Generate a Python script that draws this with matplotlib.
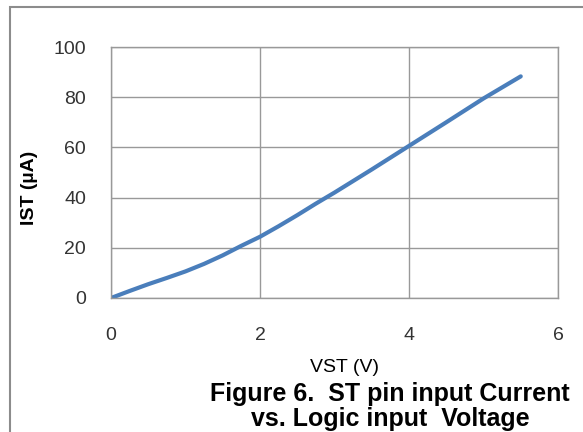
import matplotlib.pyplot as plt
from matplotlib.patches import Rectangle

# data
vst = [0, 0.25, 0.5, 0.75, 1.0, 1.25, 1.5, 1.75, 2.0, 2.25, 2.5, 2.75,
       3.0, 3.5, 4.0, 4.5, 5.0, 5.5]
ist = [0, 2.8, 5.5, 8.0, 10.6, 13.6, 17.0, 20.8, 24.4, 28.6, 33.0, 37.6,
       42.0, 51.2, 60.6, 70.0, 79.5, 88.3]
x_ticks = [0, 2, 4, 6]
y_ticks = [0, 20, 40, 60, 80, 100]

plt.rcParams['font.family'] = ['Liberation Sans', 'DejaVu Sans']

W, H = 583, 432
fig = plt.figure(figsize=(W / 100, H / 100), dpi=100)

# outer frame of the figure (cut at right and bottom)
fig.patches.append(Rectangle((10 / W, -0.1), 1.2, 1 - 7 / H + 0.1,
                             transform=fig.transFigure, fill=False,
                             edgecolor='#8c8c8c', linewidth=1.5))

left, right, top, bottom = 111, 558, 47, 298
ax = fig.add_axes([left / W, 1 - bottom / H, (right - left) / W, (bottom - top) / H])

ax.plot(vst, ist, color='#4a7ebb', linewidth=3, solid_capstyle='round')

ax.set_xlim(0, 6)
ax.set_ylim(0, 100)
ax.set_xticks(x_ticks)
ax.set_yticks(y_ticks)
ax.tick_params(length=0, labelsize=14, colors='#333333')
ax.tick_params(axis='x', pad=21)
ax.tick_params(axis='y', pad=18)
ax.grid(True, color='#999999', linewidth=1)
ax.set_axisbelow(True)
for s in ax.spines.values():
    s.set_color('#999999')
    s.set_linewidth(1)

fig.text(29 / W, 1 - 188 / H, 'IST (µA)', rotation=90, ha='center', va='center',
         fontsize=14, fontweight='bold')
fig.text(345 / W, 1 - 368 / H, 'VST (V)', ha='center', va='center', fontsize=14)
fig.text(390 / W, 1 - 394 / H, 'Figure 6.  ST pin input Current', ha='center',
         va='center', fontsize=18, fontweight='bold')
fig.text(390 / W, 1 - 419 / H, 'vs. Logic input  Voltage', ha='center',
         va='center', fontsize=18, fontweight='bold')

fig.savefig('out.png', dpi=100)
